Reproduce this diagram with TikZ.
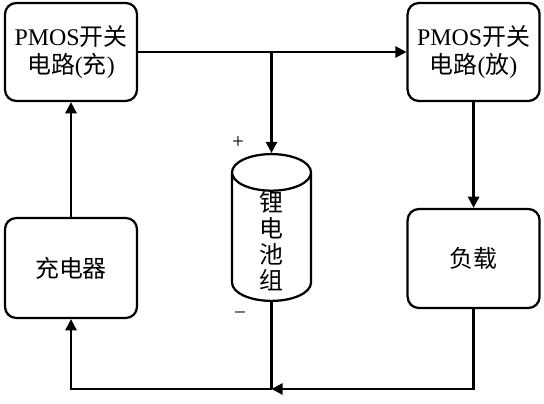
\documentclass[tikz,border=0pt]{standalone}
\usepackage{fontspec}
\setmainfont{Liberation Serif}
\newfontfamily\cjk{Noto Sans CJK SC}
\usetikzlibrary{arrows.meta,shapes.geometric}

\begin{document}
\begin{tikzpicture}[
      box/.style={draw, line width=1.6pt, rounded corners=8pt, minimum width=3.3cm, minimum height=2.45cm, align=center, font=\fontsize{17}{20}\selectfont},
      cell/.style={draw, line width=1.6pt, cylinder, shape border rotate=90, aspect=1.1, inner ysep=0pt, minimum width=1.975cm, minimum height=3.375cm, align=center, font=\fontsize{17}{18.5}\selectfont\cjk},
      sign/.style={font=\fontsize{15}{15}\selectfont},
      arr/.style={-{Triangle[length=2.8mm, width=2.8mm]}, line width=1.6pt}]
    \useasboundingbox (0,0) rectangle (13.6,10.075);
    \node[box] (pchg) at (1.775,8.775) {PMOS{\cjk 开关}\\{\cjk 电路}({\cjk 充})};
    \node[box] (pdis) at (11.84,8.775) {PMOS{\cjk 开关}\\{\cjk 电路}({\cjk 放})};
    \node[box, minimum height=2.5cm] (chg) at (1.775,3.375) {\cjk 充电器};
    \node[box, minimum height=2.475cm] (load) at (11.84,3.6125) {\cjk 负载};
    \node[cell, anchor=shape center] (bat) at (6.7875,4.3875) {锂\\电\\池\\组};
    \node[sign] (plus) at (5.95,6.5) {+};
    \node[sign] (minus) at (6.0,2.175) {−};
    \coordinate (tap) at (bat.north |- pchg.east);
    \coordinate (join) at (bat.south |- 0,0.35);
    \draw[arr] (pchg.east) -- (pdis.west);
    \draw[arr] (tap) -- (bat.north);
    \draw[arr] (pdis.south) -- (load.north);
    \draw[arr] (load.south) |- (join);
    \draw[line width=1.6pt] (bat.south) -- (join);
    \draw[arr] (join) -| (chg.south);
    \draw[arr] (chg.north) -- (pchg.south);
  \end{tikzpicture}
\end{document}
